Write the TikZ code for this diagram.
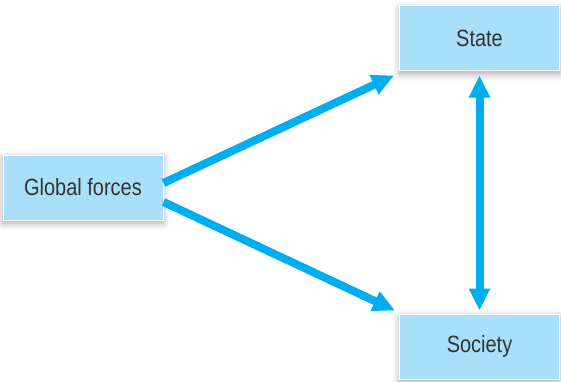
\documentclass[tikz,border=0pt]{standalone}
\usepackage{fontspec}
\setmainfont{Liberation Sans}[FakeStretch=0.85]
\usepackage{tikz}
\usetikzlibrary{arrows.meta,positioning,shadows.blur}

\definecolor{boxblue}{HTML}{A9DFF9}
\definecolor{linkblue}{HTML}{00AEEF}
\definecolor{textgrey}{HTML}{333333}

\begin{document}
\begin{tikzpicture}[
    x=1pt, y=1pt,
    font=\fontsize{23.5}{26}\selectfont,
    >=Triangle,
    box/.style ={rectangle, draw=white, line width=1pt, fill=boxblue,
                 text=textgrey, minimum width=160pt, minimum height=65pt,
                 blur shadow={shadow xshift=0pt, shadow yshift=-3pt,
                              shadow blur radius=7pt, shadow opacity=35}},
    link/.style={linkblue, line width=8pt,
                 -{Triangle[length=22pt,width=20pt]}},
    both/.style={linkblue, line width=8pt,
                 {Triangle[length=22pt,width=20pt]}-{Triangle[length=22pt,width=20pt]}}
]
\useasboundingbox (0,0) rectangle (561,381);

%–––– BOXES –––––––––––––––––––––––––––––––––––––––––
\node (global)  [box] at (83,193.5)       {Global forces};
\node (state)   [box] at (479.5,342.5)    {State};
\node (society) [box, below=242pt of state] {Society};

%–––– CONNECTORS ––––––––––––––––––––––––––––––––––––
\draw[link] ([yshift=4.5pt]global.east) -- ([xshift=-5pt,yshift=-4pt]state.south west);
\draw[link] ([yshift=-14.5pt]global.east) -- ([xshift=-4pt,yshift=3pt]society.north west);
\draw[both] ([yshift=-4pt]state.south) -- ([yshift=3pt]society.north);
\end{tikzpicture}
\end{document}
